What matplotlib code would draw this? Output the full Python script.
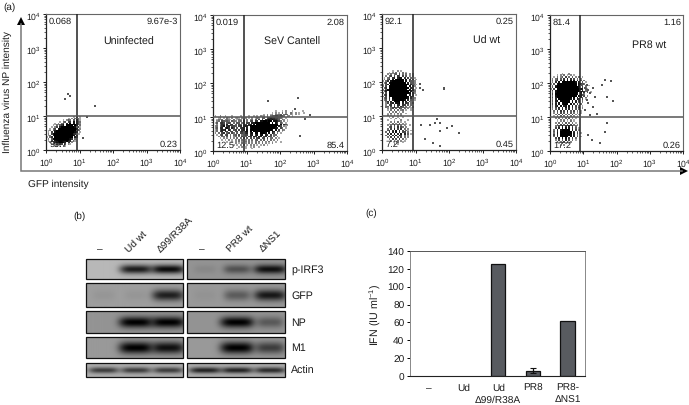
import numpy as np
import matplotlib
matplotlib.use('Agg')
import matplotlib.pyplot as plt
from matplotlib.ticker import LogLocator, LogFormatterMathtext, NullFormatter
from matplotlib.transforms import ScaledTranslation
from matplotlib.patches import Rectangle

plt.rcParams['font.family'] = ['Liberation Sans', 'DejaVu Sans']
plt.rcParams['mathtext.fontset'] = 'custom'
plt.rcParams['mathtext.rm'] = 'Liberation Sans'
plt.rcParams['mathtext.it'] = 'Liberation Sans'
plt.rcParams['mathtext.bf'] = 'Liberation Sans'
plt.rcParams['mathtext.default'] = 'regular'
plt.rcParams['text.hinting'] = 'no_hinting'

W, H = 689, 406
TEXT = '#1c1c1c'

# (a) flow plots: dot density, one string per row, top row first.
# each character is 0.05 decades wide and high, last row starts at 10^0
# digit = how dark that spot is, blank = no dots
uninfected_map = [
    "                1 2 1",
    "             1 2 3 31",
    "          1 243 4 531",
    "        1 34 56 8 643",
    "     1 2 35 7 9 8 742",
    "    1 3 468 9999 97 3",
    "   1 25 7999999998 51",
    "  1 35 899999999997 2",
    " 12 47999999999999 3 ",
    " 1 5 89999999999985 1",
    " 2 589999999999976 1 ",
    " 13 7999999999998 4  ",
    "1 36 99999999999 72  ",
    " 2 4899999999986 3   ",
    " 1 5 8999999987 31   ",
    "  2 46899987 6 2     ",
    "   13 5 65 4 21      ",
    "     12 1 21         ",
    "",
    "",
]
sev_map = [
    "                                     1   1 2   1     1",
    "                                   1 2 1 3 2  31 2 1  1",
    "                              1 2 12 3234 343 21 2 1",
    " 1  2  1   1    1    1  1 1 212 3 344554543 22 1",
    "   12 1 31 2 121 2 2 1 2 132 44 5676655431 1",
    "  1323 2321 3 132 2 3 23 4 5 5 678787654 32 1",
    "  23 54343 432 33 4 3 45 66 8899899 88753 2 1",
    " 14 565 454 3 44 34 55 77999999999 9 86 42 1",
    "  2 366 7 56 4 54 55 67 8 9999999999999 8 642",
    " 23 468 67 554 56 677 9999999999999999 75 21",
    " 24 67 686 75 4 567 7 89999999999999987 53 1",
    " 13 5768 75 45 5 67 8 99999999999998 8 5 32",
    " 13 57 65 45 45 56 78 9 9999999999 87 53 1",
    " 2 3 56 45 53 4 55 67 78 99 9998 8 75 3 1",
    "  1 35 45 3 34 5 3 55 77 68 88 76 5 33",
    "   2 33 4 3 23 3 5 4 56 76 77 56 54 3 2",
    "    1 2 2 3 2 3 3 3 4 5 4 56 45 5 33 2 1",
    "     1 1 2 1 2 3 3 2 3 3 34 3 4 3 3 2 2",
    "        1  1 2 3 2 3 3 2 3 3 3 2 3 1 1  1",
    "             2 1 3 2 3 2 3 2 3 2 1 2",
    "            1 1 2 2 1 2 2 1 1 2 1",
    "               1 2 1  1 2  1",
    "              1    1   1",
    "",
]
ud_map = [
    "      1  2 1",
    "    1 2 3 2 3 1",
    "   2 3 34 5 3 3 2 1",
    "  2 35 5 65 5 4 2 1",
    " 1 34 67 788 6 5 3 1",
    " 2 46 8 99999 8 6 3 1",
    "1 36 89999999 8 64 2",
    " 25 8999999999 7 4 2",
    "1 47 99999999999 6 31",
    "2 5 99999999999 8 52",
    " 36 999999999999 64 1",
    "2 4899999999999 8 52",
    " 37 999999999999 7 3",
    "2 5 9999999999998 52",
    " 46 99999999999 7 4 1",
    "2 5 899999999999 63",
    " 35 7 9999999998 6 2",
    " 24 6 89999998 7 4 1",
    "  36 7 8999 8 7 53",
    "  25 67 889 7 65 31",
    "  2 46 5 77 65 4 3",
    "  34 5 6 5 64 3 2 1",
    "   2 35 4 54 3 2 1",
    "   1 3 4 3 23 1  1",
    "    3 2 3 1 2 ",
    "   1 3 2 3 2  1",
    "   2 1 2 1 2 ",
    "    1 2  1  1",
    "     1  2 1",
    "   1   1   2   1",
    "     2 3 3 1 1",
    "    1 3 2 4 2 1",
    "   2 3 5 4 3 2  1",
    "    35 4 6 53 2",
    "   3 5 7 5 6 3 2",
    "   45 6 8 7 5 31 1",
    "  3 6 7 8 7 55 3",
    "   5 7 8 6 8 7 4 1",
    "  3 5 6 7 85 3 2",
    "   3 5 7 4 5 3 2",
    "    2 5 4 5 3 1",
    "     3 2 3 2 1",
    "       1 3  1",
    "       2 1",
    "",
    "",
    "",
]
pr8_map = [
    "       1   2",
    "    1 2 3 1 2 1  ",
    "  1 3 24 5 3 4 2 3 1",
    " 2 35 4 6 7 6 5 3 2",
    " 3 46 7 8 9 8 8 6 4 3",
    " 2 6 8 999999998 7 4 1",
    "1 4 899999999999 85 3",
    " 3 7999999999999 8 6 3 1",
    " 4 899999999999998 5 3",
    "2 5 9999999999999987 41",
    " 5 899999999999999 7 3",
    " 3 89999999999999 8 6 4 1",
    " 5 99999999999998 7 3",
    " 3 8999999999999 87 5 2",
    " 5 7999999999 9 8 64 3",
    " 3 7 99999998 8 76 5 1",
    " 4 78 999999 8 7 5 3",
    " 3 6 8 99999 8 7 4 2",
    " 5 7 8 8999 8 6 5 3",
    " 3 67 8 78 8 7 5 3 1",
    " 3 5 7 6 8 7 6 4 5 2",
    " 2 4 6 7 6 7 5 4 3 ",
    "  3 5 6 5 7 4 5 3 1",
    "  2 4 5 4 5 4 3 2 1",
    "   3 4 5 3 3 5 2 1",
    "  1 3 4 3 4 3 2 1",
    "   2 3 2 3 4 2 1",
    "    1 3 2 3 2 1",
    "    1 2 3 1 3 1",
    "   2 3 3 4 3 3 1",
    "    3 5 4 5 5 3 2",
    "   3 5 7 6 7 5 3",
    "   5 7 8 8 8 6 4 1",
    "  3 7 899999 7 5 2",
    "  4 7 9999999 6 3",
    "  3 8 9999999 7 5 1",
    "  5 7 9999998 7 3",
    "  3 6 89999 8 7 4 1",
    "   5 7 8 8 6 5 3",
    "   2 5 4 7 5 3 1",
    "    3 2 5 3 2",
    "     1 3 2 1",
    "      1 2",
    "",
    "",
    "",
]

# single stray events, log10 GFP and log10 NP
uninfected_gfp = [0.67, 0.57, 1.46, 1.21, 1.09, 0.72, 0.95]
uninfected_np = [1.65, 1.50, 1.28, 0.98, 0.35, 1.60, 0.60]
sev_gfp = [1.65, 2.54, 2.90, 2.75, 2.45, 2.60]
sev_np = [1.48, 1.57, 1.05, 0.95, 1.25, 0.45]
ud_gfp = [1.14, 1.22, 1.12, 1.86, 1.84, 1.64, 1.74, 1.44, 1.59, 2.09, 1.94, 2.29, 1.74, 1.29, 1.52, 1.74, 1.16]
ud_np = [1.83, 1.76, 1.93, 1.82, 1.78, 0.92, 0.80, 0.75, 0.78, 0.70, 0.66, 0.51, 0.56, 0.31, 0.22, 0.12, 0.73]
pr8_gfp = [0.95, 1.05, 1.15, 1.30, 1.65, 1.82, 1.55, 1.70, 1.90, 1.10, 1.30, 1.05, 1.20, 1.40, 1.15,
           1.00, 1.35, 1.70, 1.65, 1.15, 1.25, 1.50, 1.00, 1.10, 1.20]
pr8_np = [1.93, 1.86, 1.78, 1.86, 2.10, 2.05, 1.93, 1.60, 1.47, 1.50, 1.30, 1.20, 1.05, 1.10, 1.40,
          1.65, 1.60, 0.82, 0.56, 0.46, 0.31, 0.23, 1.98, 1.93, 1.70]

gate_gfp = 8.2
gate_np = 10

flow_names = ['Uninfected', 'SeV Cantell', 'Ud wt', 'PR8 wt']
flow_maps = [uninfected_map, sev_map, ud_map, pr8_map]
flow_gfp = [uninfected_gfp, sev_gfp, ud_gfp, pr8_gfp]
flow_np = [uninfected_np, sev_np, ud_np, pr8_np]
quad_ul = ['0.068', '0.019', '92.1', '81.4']
quad_ur = ['9.67e-3', '2.08', '0.25', '1.16']
quad_ll = ['99.7', '12.5', '7.2', '17.2']
quad_lr = ['0.23', '85.4', '0.45', '0.26']

# (b) blot band strength per lane
blot_rows = ['p-IRF3', 'GFP', 'NP', 'M1', 'Actin']
blot_left = [[0.0, 0.85, 0.95], [0.05, 0.05, 0.8], [0.0, 1.0, 1.0], [0.0, 1.0, 0.9], [0.65, 0.65, 0.65]]
blot_right = [[0.08, 0.45, 0.9], [0.04, 0.4, 0.85], [0.0, 1.0, 0.4], [0.0, 1.0, 0.6], [0.8, 0.8, 0.75]]
blot_bg_left = [0.72, 0.62, 0.58, 0.6, 0.68]
blot_bg_right = [0.58, 0.6, 0.58, 0.6, 0.68]
lanes_left = ['–', 'Ud wt', 'Δ99/R38A']
lanes_right = ['–', 'PR8 wt', 'ΔNS1']

# (c) IFN
ifn_labels = ['–', 'Ud', 'Ud\nΔ99/R38A', 'PR8', 'PR8-\nΔNS1']
ifn_values = [0, 0, 125, 6, 62]
ifn_errors = [0, 0, 0, 3, 0]


def add_px_axes(x0, y0, x1, y1):
    return fig.add_axes([x0 / W, 1 - y1 / H, (x1 - x0) / W, (y1 - y0) / H])


def map_points(rows):
    xs, ys, shades = [], [], []
    n = len(rows)
    for r, row in enumerate(rows):
        for c, ch in enumerate(row):
            if ch != ' ':
                xs.append(10 ** ((c + 0.5) * 0.05))
                ys.append(10 ** ((n - r - 0.5) * 0.05))
                # low digits still read as dark specks in the scan
                shades.append(str(round(0.9 * (1 - (int(ch) / 9.0) ** 0.6), 2)))
    return xs, ys, shades


fig = plt.figure(figsize=(W / 100, H / 100), dpi=100)
page = fig.add_axes([0, 0, 1, 1], zorder=0)
page.set_xlim(0, W)
page.set_ylim(H, 0)
page.axis('off')

# (a)
flow_boxes = [(46, 15, 180, 151), (213, 16, 347, 152), (382, 15, 516, 151), (550, 16, 683, 152)]
name_pos = [(129, 42), (292, 42), (487, 41.5), (649, 45)]
for i, box in enumerate(flow_boxes):
    ax = add_px_axes(*box)
    ax.patch.set_alpha(0)
    ax.set_xscale('log')
    ax.set_yscale('log')
    ax.set_xlim(1, 1e4)
    ax.set_ylim(1, 1e4)
    xs, ys, shades = map_points(flow_maps[i])
    ax.scatter(xs, ys, s=1.7, c=shades, marker='s', linewidths=0, zorder=2)
    ax.scatter(10 ** np.array(flow_gfp[i]), 10 ** np.array(flow_np[i]), s=0.8, c='#555555',
               marker='s', linewidths=0, zorder=2)
    ax.axvline(gate_gfp, color='#222222', lw=1.1, zorder=3)
    ax.axhline(gate_np, color='#555555', lw=1.1, zorder=3)
    for side in ['top', 'right']:
        ax.spines[side].set_color('#666666')
        ax.spines[side].set_linewidth(0.8)
    for side in ['left', 'bottom']:
        ax.spines[side].set_color('#222222')
        ax.spines[side].set_linewidth(0.9)
    for axis in [ax.xaxis, ax.yaxis]:
        axis.set_major_locator(LogLocator(base=10, numticks=5))
        axis.set_major_formatter(LogFormatterMathtext())
        axis.set_minor_locator(LogLocator(base=10, subs=range(2, 10), numticks=5))
        axis.set_minor_formatter(NullFormatter())
    ax.tick_params(which='major', length=2, width=0.7, labelsize=6.2, pad=1.5, colors=TEXT)
    ax.tick_params(which='minor', length=1.2, width=0.5, colors=TEXT)
    ax.text(0.02, 0.955, quad_ul[i], transform=ax.transAxes, fontsize=6.7, color=TEXT, va='center', zorder=4)
    ax.text(0.985, 0.955, quad_ur[i], transform=ax.transAxes, fontsize=6.7, color=TEXT, va='center', ha='right', zorder=4)
    ax.text(0.025, 0.045, quad_ll[i], transform=ax.transAxes, fontsize=6.7, color=TEXT, va='center', zorder=4)
    ax.text(0.985, 0.045, quad_lr[i], transform=ax.transAxes, fontsize=6.7, color=TEXT, va='center', ha='right', zorder=4)
    page.text(name_pos[i][0], name_pos[i][1], flow_names[i], fontsize=7.7, color=TEXT, ha='center', va='center')
    if i == 3:
        # last 10^4 would run off the page
        fig.canvas.draw()
        last = ax.get_xticklabels()[-1]
        last.set_transform(last.get_transform() + ScaledTranslation(-2.5 / 100, 0, fig.dpi_scale_trans))

page.text(3, 7, '(a)', fontsize=7.2, color=TEXT, va='center')
page.text(7, 92, 'Influenza virus NP intensity', fontsize=7.3, color=TEXT, rotation=90, ha='center', va='center')
page.text(28, 184, 'GFP intensity', fontsize=7.3, color=TEXT, va='center')
page.plot([21, 21, 682], [25, 172, 172], color='#777777', lw=1.1, solid_joinstyle='miter')
page.fill([17, 25, 21], [26, 26, 18], color='black', lw=0)
page.fill([680, 680, 688], [168, 176, 172], color='black', lw=0)

# (b)
page.text(73, 216, '(b)', fontsize=7.2, color=TEXT, ha='left', va='center')
blot_y = [(260, 280), (284, 308), (312, 334), (338, 359), (364, 378)]
band_h = [4.5, 5.5, 5.5, 6, 3]
sides = [(85.5, 183, [103, 135, 167], blot_left, blot_bg_left, lanes_left),
         (187, 285, [205, 237, 270], blot_right, blot_bg_right, lanes_right)]
for x0, x1, lane_x, strengths, bgs, lane_names in sides:
    for r, (y0, y1) in enumerate(blot_y):
        px_x = np.arange(x0, x1, 0.5)
        px_y = np.arange(y0, y1, 0.5)
        gx, gy = np.meshgrid(px_x, px_y)
        img = np.full(gx.shape, bgs[r], dtype=float)
        for lx, amp in zip(lane_x, strengths[r]):
            band = np.exp(-((gx - lx) / (11 + 6 * amp)) ** 4 - ((gy - (y0 + y1) / 2) / band_h[r]) ** 2)
            img = img - amp * band * img
        page.imshow(img, cmap='gray', vmin=0, vmax=1, extent=(x0, x1, y1, y0), aspect='auto', zorder=1)
        page.add_patch(Rectangle((x0, y0), x1 - x0, y1 - y0, fill=False, ec='#111111', lw=0.9, zorder=2))
    for lx, name in zip(lane_x, lane_names):
        if name == '–':
            page.text(lx - 3, 250, name, fontsize=7.3, color=TEXT, ha='center', va='center')
        else:
            page.text(lx - 5, 254, name, fontsize=7.3, color=TEXT, rotation=45, ha='left', va='bottom',
                      rotation_mode='anchor')
page.set_xlim(0, W)
page.set_ylim(H, 0)
for (y0, y1), name in zip(blot_y, blot_rows):
    page.text(291, (y0 + y1) / 2, name, fontsize=7.7, color=TEXT, va='center')

# (c)
page.text(365, 213, '(c)', fontsize=7.2, color=TEXT, va='center')
ax = add_px_axes(410, 252, 585, 377)
x = np.arange(1, 6)
has_bar = np.array(ifn_values) > 0
ax.bar(x[has_bar], np.array(ifn_values)[has_bar], width=0.42, color='#585b60', edgecolor='#111111', lw=0.9, zorder=2)
ax.errorbar(x[3], ifn_values[3], yerr=ifn_errors[3], color='#111111', lw=0.9, capsize=2, capthick=0.8, zorder=3)
ax.set_xlim(0.46, 5.5)
ax.set_ylim(0, 140)
ax.set_yticks(range(0, 141, 20))
ax.set_xticks(x)
ax.set_xticklabels(ifn_labels, fontsize=7.3, color=TEXT, linespacing=1.3)
ax.tick_params(axis='x', length=0, pad=5)
ax.tick_params(axis='y', length=2.5, width=0.7, labelsize=7.3, labelcolor=TEXT, pad=1.5)
for side in ['top', 'right', 'left']:
    ax.spines[side].set_color('#888888')
    ax.spines[side].set_linewidth(0.7)
ax.spines['top'].set_color('#555555')
ax.spines['bottom'].set_color('#222222')
ax.set_ylabel('IFN (IU ml$^{-1}$)', fontsize=7.7, color=TEXT, labelpad=3)

fig.savefig('out.png', dpi=100)
